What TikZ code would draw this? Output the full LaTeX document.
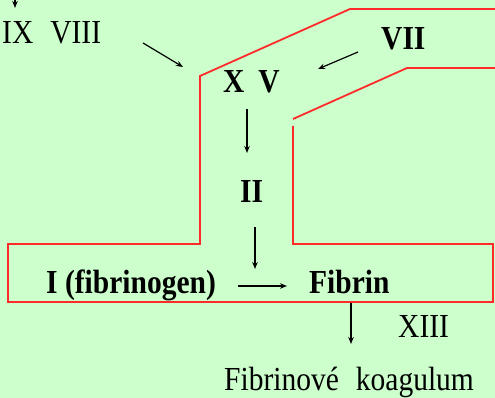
\documentclass[tikz,border=0pt]{standalone}
\usepackage{fontspec}
\setmainfont{Liberation Serif}
\usetikzlibrary{arrows.meta}
\definecolor{bggreen}{HTML}{CCFFCC}
\definecolor{outline}{HTML}{FF2A2A}
\newcommand{\tall}[1]{\scalebox{1}[1.14]{#1}}
\tikzset{
  lbl/.style={anchor=base west, inner sep=0pt, font=\fontsize{29.5}{34}\selectfont},
  blbl/.style={lbl, font=\fontsize{29.5}{34}\selectfont\bfseries},
  arr/.style={line width=1.2pt, -{Stealth[length=7pt,width=5.5pt]}},
  wall/.style={outline, line width=1.8pt}
}
\begin{document}
\begin{tikzpicture}[x=1pt,y=-1pt]
\fill[bggreen] (0,0) rectangle (495,398);
\useasboundingbox (0,0) rectangle (495,398);
% outline
\draw[wall] (495,9) -- (350,9) -- (200,76) -- (200,244) -- (8,244) -- (8,302) -- (493,302) -- (493,244) -- (293,244) -- (293,126);
\draw[wall] (293,119) -- (407,68) -- (495,68);
% labels
\node[lbl] (ix) at (2,44) {\tall{IX\hspace{17pt}VIII}};
\node[blbl] (vii) at (381,50) {\tall{VII}};
\node[blbl] (xv) at (223,93) {\tall{X\hspace{14pt}V}};
\node[blbl] (ii) at (240,203) {\tall{II}};
\node[blbl] (fg) at (46,293) {\tall{I (fibrinogen)}};
\node[blbl] (fb) at (309,293) {\tall{Fibrin}};
\node[lbl] (xiii) at (398,337) {\tall{XIII}};
\node[lbl] (ko) at (224,390) {\tall{Fibrinové\hspace{17pt}koagulum}};
% connector coordinates
\coordinate (a0s) at (15,-2); \coordinate (a0e) at (15,8);
\coordinate (a1s) at (143,43); \coordinate (a1e) at (183,67);
\coordinate (a2s) at (358,52); \coordinate (a2e) at (318,69);
\coordinate (a3s) at (247,109); \coordinate (a3e) at (247,153);
\coordinate (a4s) at (255,227); \coordinate (a4e) at (255,269);
\coordinate (a5s) at (238,286); \coordinate (a5e) at (287,286);
\coordinate (a6s) at (351,303); \coordinate (a6e) at (351,344);
\draw[arr] (a0s) -- (a0e);
\draw[arr] (a1s) -- (a1e);
\draw[arr] (a2s) -- (a2e);
\draw[arr] (a3s) -- (a3e);
\draw[arr] (a4s) -- (a4e);
\draw[arr] (a5s) -- (a5e);
\draw[arr] (a6s) -- (a6e);
\end{tikzpicture}
\end{document}
